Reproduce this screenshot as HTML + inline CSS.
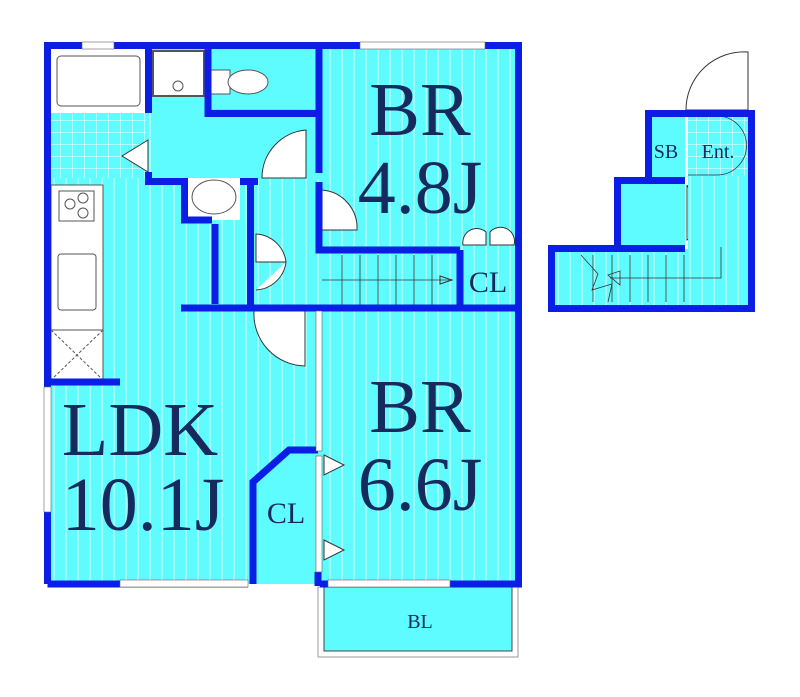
<!DOCTYPE html>
<html><head><style>body{margin:0;background:#fff}svg{display:block}</style></head><body>
<svg width="800" height="697" viewBox="0 0 800 697" xmlns="http://www.w3.org/2000/svg">
<defs>
<pattern id="st" width="12" height="10" patternUnits="userSpaceOnUse"><rect width="12" height="10" fill="#5ffcff"/><line x1="6" y1="0" x2="6" y2="10" stroke="#e8ffff" stroke-width="1"/></pattern>
<pattern id="tl" width="12" height="12" patternUnits="userSpaceOnUse"><rect width="12" height="12" fill="#5ffcff"/><path d="M0 0H12M0 0V12" stroke="#fff" stroke-width="1"/></pattern>
</defs>
<rect x="48" y="46" width="472" height="538" fill="url(#st)"/>
<rect x="151" y="49" width="170" height="130" fill="#5ffcff"/>
<rect x="51" y="113" width="95" height="65" fill="url(#tl)"/>
<rect x="51" y="49" width="95" height="64" fill="#fff"/>
<rect x="57" y="56" width="83" height="50" rx="4" fill="#fff" stroke="#555"/>
<rect x="153" y="51" width="51" height="45" fill="#fff" stroke="#555" stroke-width="2"/>
<circle cx="178" cy="86" r="5" fill="none" stroke="#555"/>
<rect x="210" y="70" width="20" height="24" fill="#fff" stroke="#555"/>
<ellipse cx="248" cy="82" rx="20" ry="12" fill="#fff" stroke="#555"/>
<rect x="208" y="110" width="108" height="4" fill="#fff" stroke="#888" stroke-width="0.5"/>
<rect x="51" y="185" width="52" height="145" fill="#fff" stroke="#555"/>
<rect x="59" y="191" width="35" height="30" fill="#fff" stroke="#555"/>
<circle cx="70" cy="204" r="5" fill="none" stroke="#555"/><circle cx="83" cy="198" r="5" fill="none" stroke="#555"/><circle cx="83" cy="213" r="5" fill="none" stroke="#555"/>
<rect x="58" y="254" width="38" height="56" rx="3" fill="#fff" stroke="#555"/>
<rect x="51" y="330" width="52" height="50" fill="#fff" stroke="#555"/>
<path d="M51 330L103 380M103 330L51 380" stroke="#555" stroke-dasharray="3 2"/>
<rect x="188" y="178" width="52" height="42" fill="#fff"/>
<ellipse cx="214" cy="197" rx="22" ry="17" fill="#fff" stroke="#555"/>
<rect x="322" y="247" width="138" height="58" fill="url(#st)"/>
<g stroke="#333" stroke-width="0.8"><line x1="322" y1="280" x2="450" y2="280"/>
<line x1="342" y1="255" x2="342" y2="305"/><line x1="360" y1="255" x2="360" y2="305"/><line x1="378" y1="255" x2="378" y2="305"/><line x1="396" y1="255" x2="396" y2="305"/><line x1="414" y1="255" x2="414" y2="305"/><line x1="432" y1="255" x2="432" y2="305"/></g>
<path d="M440 276L452 280L440 284Z" fill="none" stroke="#333"/>
<g fill="#fff" stroke="#333" stroke-width="1">
<path d="M306 130V178H262A48 48 0 0 1 306 130Z"/>
<path d="M322 190A38 38 0 0 1 357 230H322Z"/>
<path d="M256 234A32 32 0 0 1 286 262H256ZM256 290A32 32 0 0 0 286 262"/>
<path d="M254 311H305V366A52 52 0 0 1 254 311Z"/>
<path d="M463 245A14 14 0 0 1 486 232V245ZM514 245A14 14 0 0 0 490 232V245Z"/>
<path d="M148 140L122 156L148 172Z"/>
<path d="M324 455L344 465L324 475ZM324 540L344 550L324 560Z"/>
<path d="M687 185L710 229L687 240Z"/>
<path d="M686 110A58 58 0 0 1 748 52V110Z"/>
</g>
<rect x="318" y="587" width="200" height="70" fill="#fff" stroke="#999"/>
<rect x="324" y="587" width="188" height="64" fill="#5ffcff" stroke="#444"/>
<path d="M250 584V485L290 450H320V584Z" fill="#5ffcff"/>
<g fill="none" stroke="#0a1ee6" stroke-width="7" stroke-linejoin="miter">
<path d="M47.5 584V45.5H518.5V584H320M248 584H47.5"/>
<path d="M148.5 46V113M148.5 172V181.5H184.5V220H212"/>
<path d="M208 46V113.5H316"/>
<path d="M319 46V173M319 182V250H460M460 250V308"/>
<path d="M250.5 181.5V308M215 224V304M181 308H518"/>
<path d="M47 382H120"/>
<path d="M253 584V482L289 450H318"/>
<path d="M318 572V586"/>
</g>
<rect x="240" y="178" width="18" height="7" fill="#0a1ee6"/>
<g fill="#fff" stroke="#666" stroke-width="0.6">
<rect x="82" y="42" width="32" height="7"/><rect x="360" y="42" width="125" height="7"/>
<rect x="44" y="387" width="7" height="125"/><rect x="120" y="580" width="128" height="7"/><rect x="328" y="580" width="122" height="7"/>
<rect x="316" y="311" width="6" height="140"/><rect x="316" y="456" width="6" height="116"/>
</g>
<rect x="551" y="249" width="200" height="59" fill="url(#st)"/>
<rect x="617" y="181" width="68" height="68" fill="#5ffcff"/>
<rect x="648" y="113" width="37" height="68" fill="#5ffcff"/>
<rect x="688" y="113" width="60" height="63" fill="url(#tl)"/>
<rect x="688" y="176" width="60" height="73" fill="url(#st)"/>
<path d="M688 116H717A20 20 0 0 1 717 175H688" fill="none" stroke="#333" stroke-width="0.8"/>
<g stroke="#333" stroke-width="0.8" fill="none">
<path d="M721 247V278H610M608 275L620 271L620 285Z"/>
<line x1="593" y1="255" x2="593" y2="302"/><line x1="612" y1="255" x2="612" y2="302"/><line x1="630" y1="255" x2="630" y2="302"/><line x1="648" y1="255" x2="648" y2="302"/><line x1="666" y1="255" x2="666" y2="302"/><line x1="684" y1="255" x2="684" y2="302"/>
<path d="M581 255L598 274L592 290L612 284L608 302"/>
</g>
<g fill="none" stroke="#0a1ee6" stroke-width="7">
<path d="M686 113.5H751.5V308.5H551.5V248.5H685M617.5 248.5V180.5H685M648.5 180.5V113.5H686"/>
</g>
<g font-family="Liberation Serif, serif" fill="#162a5e">
<text x="420" y="135" font-size="76" text-anchor="middle">BR</text>
<text x="420" y="213" font-size="76" text-anchor="middle">4.8J</text>
<text x="488" y="292" font-size="30" text-anchor="middle">CL</text>
<text x="420" y="432" font-size="76" text-anchor="middle">BR</text>
<text x="420" y="510" font-size="76" text-anchor="middle">6.6J</text>
<text x="140" y="455" font-size="76" text-anchor="middle">LDK</text>
<text x="143" y="530" font-size="76" text-anchor="middle">10.1J</text>
<text x="286" y="523" font-size="30" text-anchor="middle">CL</text>
<text x="420" y="628" font-size="20" text-anchor="middle">BL</text>
<text x="666" y="158" font-size="20" text-anchor="middle">SB</text>
<text x="718" y="158" font-size="20" text-anchor="middle">Ent.</text>
</g>
</svg>
</body></html>
